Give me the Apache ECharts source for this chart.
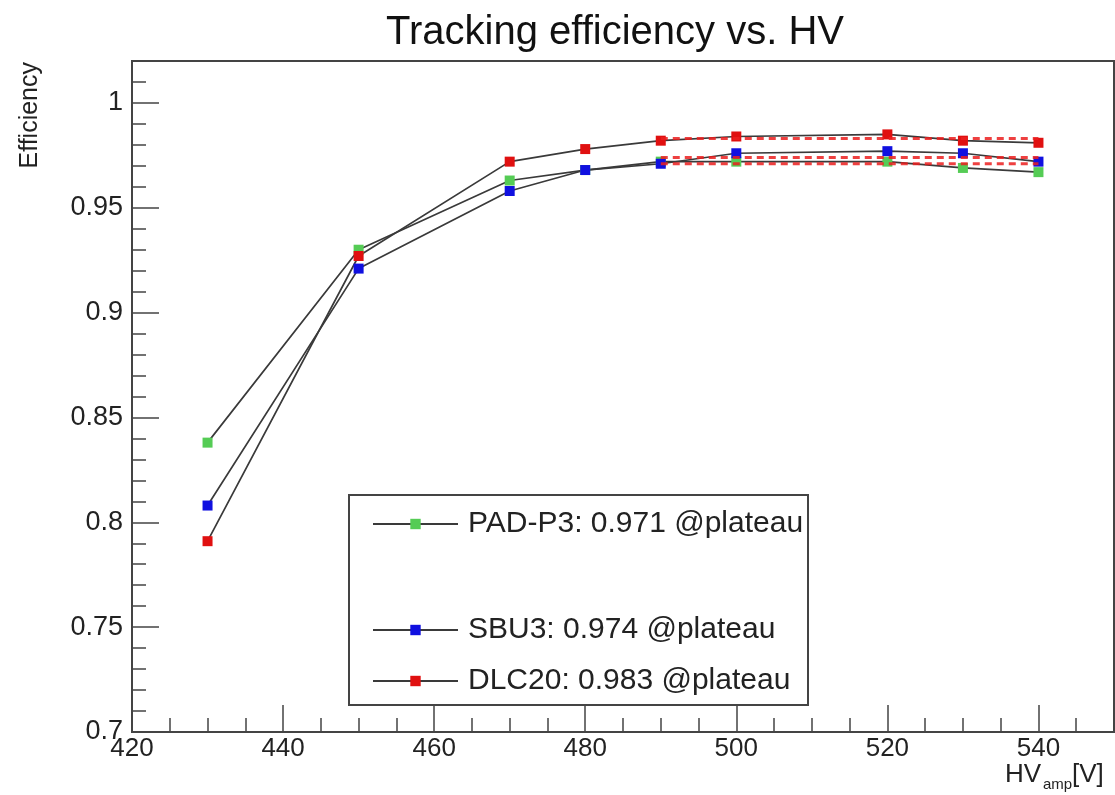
<!DOCTYPE html>
<html>
<head>
<meta charset="utf-8">
<script src="https://cdn.jsdelivr.net/npm/echarts@6/dist/echarts.min.js"></script>
<style>
html,body{margin:0;padding:0;background:#fff;}
#chart{width:1115px;height:795px;}
</style>
</head>
<body>
<div id="chart"></div>
<script>
// ---- data ----
var hv = [430, 450, 470, 480, 490, 500, 520, 530, 540];
var padP3 = [0.838, 0.930, 0.963, 0.968, 0.972, 0.972, 0.972, 0.969, 0.967];
var sbu3  = [0.808, 0.921, 0.958, 0.968, 0.971, 0.976, 0.977, 0.976, 0.972];
var dlc20 = [0.791, 0.927, 0.972, 0.978, 0.982, 0.984, 0.985, 0.982, 0.981];
var seriesNames = ['PAD-P3: 0.971 @plateau', 'SBU3: 0.974 @plateau', 'DLC20: 0.983 @plateau'];
var plateauValues = [0.971, 0.974, 0.983];
var plateauRange = [490, 540];
var xMin = 420, xMax = 550, xMajor = 20, xMinor = 5;
var yMin = 0.7, yMax = 1.02, yMajor = 0.05, yMinor = 0.01;

var colors = ['#55cc55', '#1010e0', '#e01010'];
var font = "'Liberation Sans', Arial, sans-serif";

function pairs(xs, ys) { return xs.map(function (x, i) { return [x, ys[i]]; }); }

var dataSeries = [padP3, sbu3, dlc20].map(function (vals, i) {
  return {
    name: seriesNames[i],
    type: 'line',
    data: pairs(hv, vals),
    symbol: 'rect',
    symbolSize: 10,
    itemStyle: { color: colors[i] },
    lineStyle: { color: '#3a3a3a', width: 1.7 },
    z: 3,
    animation: false
  };
});

var fitSeries = plateauValues.map(function (v) {
  return {
    type: 'line',
    data: [[plateauRange[0], v], [plateauRange[1], v]],
    symbol: 'none',
    lineStyle: { color: 'rgba(235,30,30,0.85)', width: 3, type: [7, 5] },
    z: 4,
    silent: true,
    animation: false
  };
});

var axisColor = '#444';
var legendRows = [522, 628, 679];

var option = {
  backgroundColor: '#fff',
  animation: false,
  grid: { left: 132, right: 1, top: 61, bottom: 63, show: true, borderColor: axisColor, borderWidth: 2, backgroundColor: 'transparent' },
  xAxis: [
    {
      type: 'value', min: xMin, max: xMax, interval: xMajor,
      axisLine: { show: true, lineStyle: { color: axisColor, width: 2 } },
      axisTick: { show: true, inside: true, length: 27, lineStyle: { color: axisColor, width: 1.5 } },
      axisLabel: { show: true, showMaxLabel: false, color: '#222', fontSize: 26, fontFamily: font, margin: 4 },
      splitLine: { show: false }
    },
    {
      type: 'value', min: xMin, max: xMax, interval: xMinor, position: 'bottom',
      axisLine: { show: false },
      axisTick: { show: true, inside: true, length: 14, lineStyle: { color: axisColor, width: 1.5 } },
      axisLabel: { show: false },
      splitLine: { show: false }
    }
  ],
  yAxis: [
    {
      type: 'value', min: yMin, max: yMax, interval: yMajor,
      axisLine: { show: true, lineStyle: { color: axisColor, width: 2 } },
      axisTick: { show: true, inside: true, length: 27, lineStyle: { color: axisColor, width: 1.5 } },
      axisLabel: { show: true, showMaxLabel: false, color: '#222', fontSize: 27, fontFamily: font, margin: 9 },
      splitLine: { show: false }
    },
    {
      type: 'value', min: yMin, max: yMax, interval: yMinor, position: 'left',
      axisLine: { show: false },
      axisTick: { show: true, inside: true, length: 14, lineStyle: { color: axisColor, width: 1.5 } },
      axisLabel: { show: false },
      splitLine: { show: false }
    }
  ],
  legend: seriesNames.map(function (n, i) {
    return {
      data: [n],
      left: 367,
      top: legendRows[i] - 18,
      itemWidth: 85,
      itemHeight: 13,
      selectedMode: false,
      textStyle: { fontSize: 30, color: '#222', fontFamily: font, padding: [0, 0, 0, 5] }
    };
  }),
  graphic: [
    { type: 'rect', shape: { x: 349, y: 495, width: 459, height: 210 }, style: { fill: 'none', stroke: '#444', lineWidth: 2 }, z: 10 },
    { type: 'text', x: 615, y: 13, style: { text: 'Tracking efficiency vs. HV', font: "40px 'Liberation Sans', Arial, sans-serif", fill: '#111', textAlign: 'center', textVerticalAlign: 'top' } },
    { type: 'text', x: 30, y: 62, rotation: Math.PI / 2, style: { text: 'Efficiency', font: "25px 'Liberation Sans', Arial, sans-serif", fill: '#222', textAlign: 'right', textVerticalAlign: 'middle' } },
    { type: 'text', x: 1005, y: 775, style: { text: 'HV', font: "26px 'Liberation Sans', Arial, sans-serif", fill: '#222', textAlign: 'left', textVerticalAlign: 'middle' } },
    { type: 'text', x: 1043, y: 785, style: { text: 'amp', font: "15px 'Liberation Sans', Arial, sans-serif", fill: '#222', textAlign: 'left', textVerticalAlign: 'middle' } },
    { type: 'text', x: 1072, y: 775, style: { text: '[V]', font: "26px 'Liberation Sans', Arial, sans-serif", fill: '#222', textAlign: 'left', textVerticalAlign: 'middle' } }
  ],
  series: dataSeries.concat(fitSeries)
};

var chart = echarts.init(document.getElementById('chart'), null, { renderer: 'canvas' });
chart.setOption(option);
</script>
</body>
</html>
